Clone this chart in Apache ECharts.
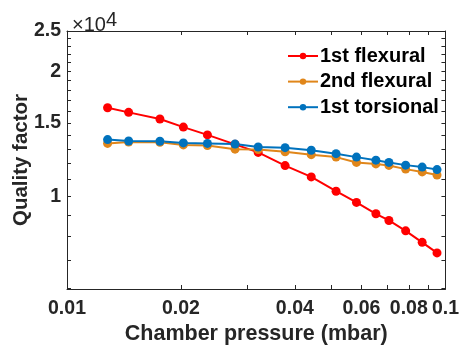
<!DOCTYPE html>
<html>
<head>
<meta charset="utf-8">
<script src="https://cdn.jsdelivr.net/npm/echarts@6/dist/echarts.min.js"></script>
<style>
html,body{margin:0;padding:0;background:#fff;}
#c{width:462px;height:351px;}
</style>
</head>
<body>
<div id="c"></div>
<script>
// Data (pressure in mbar, quality factor)
const pressure = [0.0128, 0.01455, 0.0176, 0.0203, 0.0235, 0.0278, 0.0320, 0.0377, 0.0442, 0.0514, 0.0582, 0.0655, 0.0709, 0.0785, 0.0868, 0.0950];
const flex1 = [16330, 15920, 15340, 14670, 14050, 13330, 12750, 11850, 11130, 10280, 9660, 9070, 8740, 8250, 7740, 7300];
const flex2 = [13400, 13500, 13490, 13290, 13240, 12980, 12960, 12790, 12590, 12420, 12060, 11960, 11860, 11620, 11440, 11250];
const tors1 = [13690, 13580, 13560, 13440, 13400, 13350, 13140, 13090, 12900, 12660, 12420, 12210, 12060, 11880, 11750, 11590];
const seriesNames = ['1st flexural', '2nd flexural', '1st torsional'];
const xTickLabels = [0.01, 0.02, 0.04, 0.06, 0.08, 0.1];
const xTicks = [0.01, 0.02, 0.03, 0.04, 0.05, 0.06, 0.07, 0.08, 0.09, 0.1];
const yTickLabels = [10000, 15000, 20000, 25000];
const yTicks = [6000, 7000, 8000, 9000, 10000, 11000, 12000, 13000, 14000, 15000, 16000, 17000, 18000, 19000, 20000, 21000, 22000, 23000, 24000, 25000];

const colors = ['#FF0000', '#E0861A', '#0072BD'];
const txt = '#262626';
const fontFam = '"Liberation Sans", Arial, sans-serif';

const xMin = 0.01, xMax = 0.1, yMin = 5976, yMax = 25000;

function mkX(pos, showLabel) {
  return {
    type: 'log', logBase: 10, min: xMin, max: xMax, position: pos,
    name: showLabel ? 'Chamber pressure (mbar)' : '',
    nameLocation: 'middle', nameGap: 34, nameMoveOverlap: false,
    nameTextStyle: {color: txt, fontSize: 21.5, fontWeight: 'bold', fontFamily: fontFam},
    axisLine: {show: true, lineStyle: {color: txt, width: 1}},
    axisTick: {show: true, inside: true, length: 4, customValues: xTicks, lineStyle: {color: txt}},
    axisLabel: {show: showLabel, customValues: xTickLabels, margin: 10, color: txt, fontSize: 19.5, fontWeight: 'bold', fontFamily: fontFam,
      formatter: v => String(+v.toPrecision(3))},
    splitLine: {show: false}, minorTick: {show: false}
  };
}
function mkY(pos, showLabel) {
  return {
    type: 'log', logBase: 10, min: yMin, max: yMax, position: pos,
    name: showLabel ? 'Quality factor' : '',
    nameLocation: 'middle', nameGap: 35, nameMoveOverlap: false,
    nameTextStyle: {color: txt, fontSize: 20.5, fontWeight: 'bold', fontFamily: fontFam},
    axisLine: {show: true, lineStyle: {color: txt, width: 1}},
    axisTick: {show: true, inside: true, length: 4, customValues: yTicks, lineStyle: {color: txt}},
    axisLabel: {show: showLabel, customValues: yTickLabels, margin: 6, color: txt, fontSize: 19.5, fontWeight: 'bold', fontFamily: fontFam,
      formatter: v => String(+(v / 10000).toPrecision(3))},
    splitLine: {show: false}, minorTick: {show: false}
  };
}

function mkSeries(name, vals, color) {
  return {
    name: name, type: 'line', xAxisIndex: 0, yAxisIndex: 0,
    data: pressure.map((p, i) => [p, vals[i]]),
    symbol: 'circle', symbolSize: 9,
    lineStyle: {color: color, width: 2},
    itemStyle: {color: color},
    animation: false
  };
}

const chart = echarts.init(document.getElementById('c'), null, {renderer: 'canvas'});
chart.setOption({
  animation: false,
  backgroundColor: '#fff',
  grid: {left: 67, right: 11, top: 31, bottom: 62, containLabel: false},
  title: {
    text: '×10{s|4}', left: 67, top: 5,
    textStyle: {color: txt, fontSize: 20, fontWeight: 'normal', fontFamily: fontFam,
      rich: {s: {fontSize: 20, color: txt, fontFamily: fontFam, padding: [0, 0, 10, 0]}}}
  },
  legend: {
    orient: 'vertical', left: 282, top: 41, itemWidth: 30, itemHeight: 8, itemGap: 5.6,
    data: seriesNames,
    textStyle: {color: '#000', fontSize: 20, fontWeight: 'bold', fontFamily: fontFam, padding: [0, 0, 0, -3]}
  },
  xAxis: [mkX('bottom', true), mkX('top', false)],
  yAxis: [mkY('left', true), mkY('right', false)],
  series: [
    mkSeries(seriesNames[0], flex1, colors[0]),
    mkSeries(seriesNames[1], flex2, colors[1]),
    mkSeries(seriesNames[2], tors1, colors[2])
  ]
});
</script>
</body>
</html>
